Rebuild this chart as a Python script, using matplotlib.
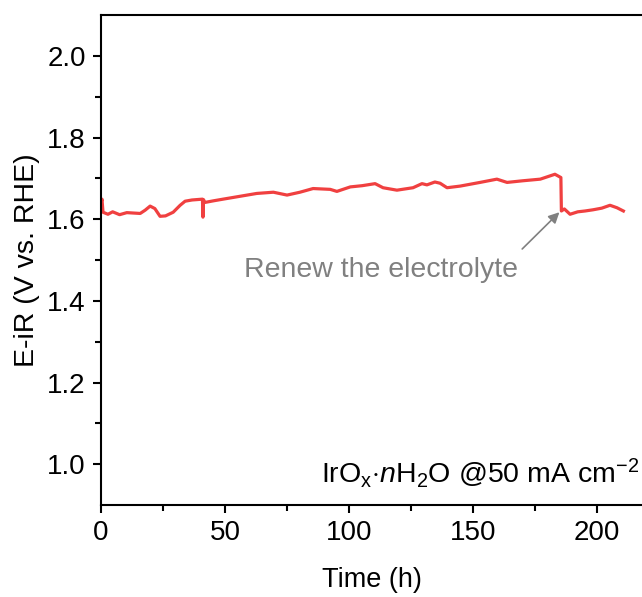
import numpy as np
import matplotlib.pyplot as plt

plt.rcParams['font.family'] = 'Liberation Sans'
plt.rcParams['mathtext.fontset'] = 'custom'
plt.rcParams['mathtext.rm'] = 'Liberation Sans'
plt.rcParams['mathtext.it'] = 'Liberation Sans:italic'

# chronopotentiometry at 50 mA cm-2, potential after iR correction
time_h = [0.0, 0.4, 0.8, 2.8, 4.7, 7.5, 10.4, 15.8, 17.8, 19.8, 21.7, 23.8,
          26.0, 29.1, 31.9, 33.9, 36.7, 40.9, 41.1, 41.3, 41.9, 45.4, 49.2,
          56.0, 62.8, 69.5, 75.0, 80.2, 85.5, 92.4, 95.1, 100.5, 105.3,
          110.5, 113.7, 119.3, 125.8, 129.4, 131.4, 134.6, 136.7, 139.5,
          144.8, 152.8, 159.6, 163.7, 170.0, 177.1, 183.0, 185.4, 185.6,
          186.8, 189.1, 192.2, 195.1, 198.4, 201.9, 205.2, 208.0, 210.6]
potential = [1.640, 1.649, 1.617, 1.612, 1.618, 1.611, 1.616, 1.614, 1.622,
             1.632, 1.626, 1.607, 1.608, 1.617, 1.634, 1.644, 1.647, 1.649,
             1.605, 1.648, 1.641, 1.645, 1.649, 1.656, 1.663, 1.666, 1.659,
             1.666, 1.675, 1.673, 1.668, 1.679, 1.682, 1.687, 1.677, 1.671,
             1.677, 1.687, 1.684, 1.691, 1.688, 1.677, 1.681, 1.690, 1.698,
             1.690, 1.694, 1.698, 1.710, 1.702, 1.620, 1.625, 1.612, 1.618,
             1.620, 1.623, 1.627, 1.634, 1.628, 1.620]

fig = plt.figure(figsize=(6.42, 5.97), dpi=100)
ax = fig.add_axes([101 / 642, 92 / 597, 541 / 642, 490 / 597])

ax.plot(time_h, potential, color='#f04040', lw=2.3)

ax.set_xlim(0, 218.1)
ax.set_ylim(0.9, 2.1)
ax.set_xticks([0, 50, 100, 150, 200])
ax.set_xticks([25, 75, 125, 175], minor=True)
ax.set_yticks([1.0, 1.2, 1.4, 1.6, 1.8, 2.0])
ax.set_yticks([1.1, 1.3, 1.5, 1.7, 1.9], minor=True)
ax.yaxis.set_major_formatter(plt.FormatStrFormatter('%.1f'))

ax.spines['right'].set_visible(False)
for s in ['left', 'bottom', 'top']:
    ax.spines[s].set_linewidth(1.5)
ax.tick_params(which='major', direction='out', length=6, width=1.5,
               labelsize=20, pad=5)
ax.tick_params(which='minor', direction='out', length=4, width=1.5)

ax.set_xlabel('Time (h)', fontsize=19.5, labelpad=15)
ax.set_ylabel('E-iR (V vs. RHE)', fontsize=20.5, labelpad=5)

ax.text(168.1, 1.475, 'Renew the electrolyte', fontsize=20.5,
        color='#808080', ha='right', va='center')
ax.annotate('', xy=(184.8, 1.617), xytext=(169.8, 1.527),
            arrowprops=dict(arrowstyle='-|>', color='#808080', lw=1.2,
                            mutation_scale=16, shrinkA=0, shrinkB=0))

ax.text(0.995, 0.03, r'IrO$_\mathrm{x}$$\cdot$$n$H$_2$O @50 mA cm$^{-2}$',
        transform=ax.transAxes, ha='right', va='bottom', fontsize=20.5)

fig.savefig('out.png', dpi=100)
